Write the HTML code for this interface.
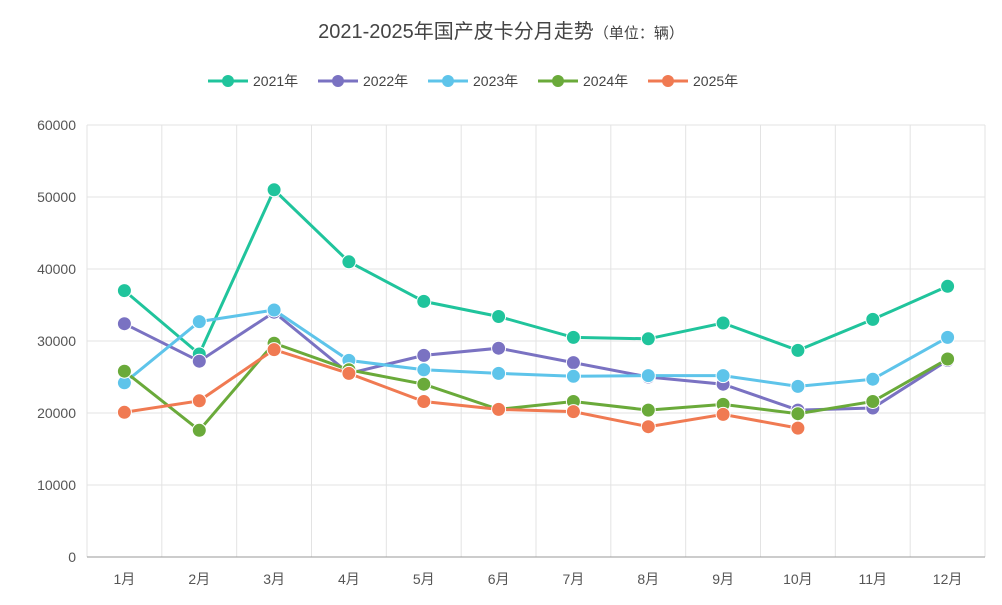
<!DOCTYPE html>
<html><head><meta charset="utf-8"><style>
body{margin:0;background:#fff;}
svg text{font-family:"Liberation Sans","Noto Sans CJK SC",sans-serif;}
</style></head><body>
<svg width="1002" height="600" viewBox="0 0 1002 600" xmlns="http://www.w3.org/2000/svg">
<rect width="1002" height="600" fill="#fff"/>
<text x="501" y="38" text-anchor="middle" font-size="20" fill="#444">2021-2025年国产皮卡分月走势<tspan font-size="15">（单位：辆）</tspan></text>
<g stroke="#e3e3e3" stroke-width="1">
<line x1="87" x2="985" y1="485" y2="485"/><line x1="87" x2="985" y1="413" y2="413"/><line x1="87" x2="985" y1="341" y2="341"/><line x1="87" x2="985" y1="269" y2="269"/><line x1="87" x2="985" y1="197" y2="197"/><line x1="87" x2="985" y1="125" y2="125"/>
<line x1="87" x2="87" y1="125" y2="557"/><line x1="161.8" x2="161.8" y1="125" y2="557"/><line x1="236.7" x2="236.7" y1="125" y2="557"/><line x1="311.5" x2="311.5" y1="125" y2="557"/><line x1="386.3" x2="386.3" y1="125" y2="557"/><line x1="461.2" x2="461.2" y1="125" y2="557"/><line x1="536" x2="536" y1="125" y2="557"/><line x1="610.8" x2="610.8" y1="125" y2="557"/><line x1="685.7" x2="685.7" y1="125" y2="557"/><line x1="760.5" x2="760.5" y1="125" y2="557"/><line x1="835.3" x2="835.3" y1="125" y2="557"/><line x1="910.2" x2="910.2" y1="125" y2="557"/><line x1="985" x2="985" y1="125" y2="557"/>
</g>
<line x1="87" x2="985" y1="557" y2="557" stroke="#999"/>
<g font-size="14" fill="#555" text-anchor="end">
<text x="76" y="562">0</text><text x="76" y="490">10000</text><text x="76" y="418">20000</text><text x="76" y="346">30000</text><text x="76" y="274">40000</text><text x="76" y="202">50000</text><text x="76" y="130">60000</text>
</g>
<g font-size="14" fill="#555" text-anchor="middle">
<text x="124.4" y="584">1月</text><text x="199.3" y="584">2月</text><text x="274.1" y="584">3月</text><text x="348.9" y="584">4月</text><text x="423.8" y="584">5月</text><text x="498.6" y="584">6月</text><text x="573.4" y="584">7月</text><text x="648.3" y="584">8月</text><text x="723.1" y="584">9月</text><text x="797.9" y="584">10月</text><text x="872.8" y="584">11月</text><text x="947.6" y="584">12月</text>
</g>
<!-- 2021 -->
<g fill="#20c49c" stroke="#20c49c">
<polyline fill="none" stroke-width="3" points="124.4,290.6 199.3,354 274.1,189.8 348.9,261.8 423.8,301.4 498.6,316.5 573.4,337.4 648.3,338.8 723.1,323 797.9,350.4 872.8,319.4 947.6,286.3"/>
<g stroke="#fff"><circle cx="124.4" cy="290.6" r="7"/><circle cx="199.3" cy="354" r="7"/><circle cx="274.1" cy="189.8" r="7"/><circle cx="348.9" cy="261.8" r="7"/><circle cx="423.8" cy="301.4" r="7"/><circle cx="498.6" cy="316.5" r="7"/><circle cx="573.4" cy="337.4" r="7"/><circle cx="648.3" cy="338.8" r="7"/><circle cx="723.1" cy="323" r="7"/><circle cx="797.9" cy="350.4" r="7"/><circle cx="872.8" cy="319.4" r="7"/><circle cx="947.6" cy="286.3" r="7"/></g>
</g>
<!-- 2022 -->
<g fill="#7a72c2" stroke="#7a72c2">
<polyline fill="none" stroke-width="3" points="124.4,323.7 199.3,361.2 274.1,312.2 348.9,373.4 423.8,355.4 498.6,348.2 573.4,362.6 648.3,377 723.1,384.2 797.9,410.1 872.8,408 947.6,360.4"/>
<g stroke="#fff"><circle cx="124.4" cy="323.7" r="7"/><circle cx="199.3" cy="361.2" r="7"/><circle cx="274.1" cy="312.2" r="7"/><circle cx="348.9" cy="373.4" r="7"/><circle cx="423.8" cy="355.4" r="7"/><circle cx="498.6" cy="348.2" r="7"/><circle cx="573.4" cy="362.6" r="7"/><circle cx="648.3" cy="377" r="7"/><circle cx="723.1" cy="384.2" r="7"/><circle cx="797.9" cy="410.1" r="7"/><circle cx="872.8" cy="408" r="7"/><circle cx="947.6" cy="360.4" r="7"/></g>
</g>
<!-- 2023 -->
<g fill="#5ec4ea" stroke="#5ec4ea">
<polyline fill="none" stroke-width="3" points="124.4,382.8 199.3,321.6 274.1,310 348.9,360.4 423.8,369.8 498.6,373.4 573.4,376.3 648.3,375.6 723.1,375.6 797.9,386.4 872.8,379.2 947.6,337.4"/>
<g stroke="#fff"><circle cx="124.4" cy="382.8" r="7"/><circle cx="199.3" cy="321.6" r="7"/><circle cx="274.1" cy="310" r="7"/><circle cx="348.9" cy="360.4" r="7"/><circle cx="423.8" cy="369.8" r="7"/><circle cx="498.6" cy="373.4" r="7"/><circle cx="573.4" cy="376.3" r="7"/><circle cx="648.3" cy="375.6" r="7"/><circle cx="723.1" cy="375.6" r="7"/><circle cx="797.9" cy="386.4" r="7"/><circle cx="872.8" cy="379.2" r="7"/><circle cx="947.6" cy="337.4" r="7"/></g>
</g>
<!-- 2024 -->
<g fill="#6aaa3a" stroke="#6aaa3a">
<polyline fill="none" stroke-width="3" points="124.4,371.2 199.3,430.3 274.1,343.2 348.9,369.8 423.8,384.2 498.6,409.4 573.4,401.5 648.3,410.1 723.1,404.4 797.9,413.7 872.8,401.5 947.6,359"/>
<g stroke="#fff"><circle cx="124.4" cy="371.2" r="7"/><circle cx="199.3" cy="430.3" r="7"/><circle cx="274.1" cy="343.2" r="7"/><circle cx="348.9" cy="369.8" r="7"/><circle cx="423.8" cy="384.2" r="7"/><circle cx="498.6" cy="409.4" r="7"/><circle cx="573.4" cy="401.5" r="7"/><circle cx="648.3" cy="410.1" r="7"/><circle cx="723.1" cy="404.4" r="7"/><circle cx="797.9" cy="413.7" r="7"/><circle cx="872.8" cy="401.5" r="7"/><circle cx="947.6" cy="359" r="7"/></g>
</g>
<!-- 2025 -->
<g fill="#f07a52" stroke="#f07a52">
<polyline fill="none" stroke-width="3" points="124.4,412.3 199.3,400.8 274.1,349.6 348.9,373.4 423.8,401.5 498.6,409.4 573.4,411.6 648.3,426.7 723.1,414.4 797.9,428.1"/>
<g stroke="#fff"><circle cx="124.4" cy="412.3" r="7"/><circle cx="199.3" cy="400.8" r="7"/><circle cx="274.1" cy="349.6" r="7"/><circle cx="348.9" cy="373.4" r="7"/><circle cx="423.8" cy="401.5" r="7"/><circle cx="498.6" cy="409.4" r="7"/><circle cx="573.4" cy="411.6" r="7"/><circle cx="648.3" cy="426.7" r="7"/><circle cx="723.1" cy="414.4" r="7"/><circle cx="797.9" cy="428.1" r="7"/></g>
</g>
<!-- legend -->
<g font-size="14" fill="#444">
<line x1="208" x2="248" y1="81" y2="81" stroke="#20c49c" stroke-width="3"/><circle cx="228" cy="81" r="6" fill="#20c49c"/><text x="253" y="86">2021年</text>
<line x1="318" x2="358" y1="81" y2="81" stroke="#7a72c2" stroke-width="3"/><circle cx="338" cy="81" r="6" fill="#7a72c2"/><text x="363" y="86">2022年</text>
<line x1="428" x2="468" y1="81" y2="81" stroke="#5ec4ea" stroke-width="3"/><circle cx="448" cy="81" r="6" fill="#5ec4ea"/><text x="473" y="86">2023年</text>
<line x1="538" x2="578" y1="81" y2="81" stroke="#6aaa3a" stroke-width="3"/><circle cx="558" cy="81" r="6" fill="#6aaa3a"/><text x="583" y="86">2024年</text>
<line x1="648" x2="688" y1="81" y2="81" stroke="#f07a52" stroke-width="3"/><circle cx="668" cy="81" r="6" fill="#f07a52"/><text x="693" y="86">2025年</text>
</g>
</svg>
</body></html>
